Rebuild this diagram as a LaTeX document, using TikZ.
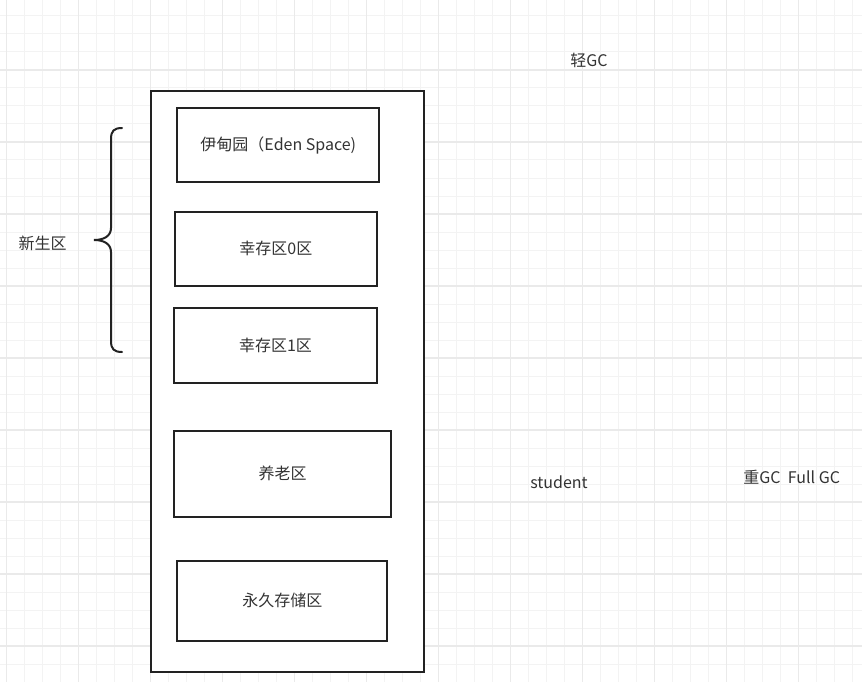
\documentclass[tikz,border=0pt]{standalone}
\usepackage{fontspec}
\setmainfont{Noto Sans CJK SC}
\definecolor{gridminor}{HTML}{F3F3F3}
\definecolor{gridmajor}{HTML}{EAEAEA}
\definecolor{ink}{HTML}{222222}
\definecolor{txt}{HTML}{333333}
\tikzset{
  box/.style={draw=ink, line width=2pt, fill=white, text=txt, inner sep=0pt, outer sep=0pt,
              font=\fontsize{16pt}{19pt}\selectfont},
  lbl/.style={text=txt, inner sep=0pt, font=\fontsize{16pt}{19pt}\selectfont},
}
\begin{document}
\begin{tikzpicture}[x=1pt, y=-1pt]
\useasboundingbox (0,0) rectangle (862,682);
\fill[white] (0,0) rectangle (862,682);
% grid
\foreach \x in {6.3,24.3,...,862} \draw[gridminor, line width=1pt] (\x,0) -- (\x,682);
\foreach \y in {16,34,...,682} \draw[gridminor, line width=1pt] (0,\y) -- (862,\y);
\foreach \x in {6.3,78.3,...,862} \draw[gridmajor, line width=1.3pt] (\x,0) -- (\x,682);
\foreach \y in {-2,70,...,682} \draw[gridmajor, line width=1.3pt] (0,\y) -- (862,\y);
% outer heap
\node[box, minimum width=273.8pt, minimum height=581.6pt] (heap) at (287.4,381.5) {};
% inner regions
\node[box, minimum width=202pt, minimum height=74.6pt] (eden) at (278.3,145) {伊甸园（Eden Space)};
\node[box, minimum width=201.7pt, minimum height=74.3pt] (s0) at (275.85,248.85) {幸存区0区};
\node[box, minimum width=202.4pt, minimum height=75.6pt] (s1) at (275.5,345.5) {幸存区1区};
\node[box, minimum width=217pt, minimum height=86pt] (old) at (282.5,473.7) {养老区};
\node[box, minimum width=210pt, minimum height=80.3pt] (perm) at (282.3,600.85) {永久存储区};
% brace
\draw[ink, line width=2pt, line cap=round]
  (122,128) .. controls (114,128) and (111,131) .. (111,139) -- (111,228)
  .. controls (111,236) and (104,240) .. (94,240)
  .. controls (104,240) and (111,244) .. (111,252) -- (111,341)
  .. controls (111,349) and (114,352) .. (122,352);
% labels
\node[lbl] (young) at (42.5,243) {新生区};
\node[lbl] (minor) at (589,60) {轻GC};
\node[lbl] (student) at (559,482) {student};
\node[lbl] (full) at (791.7,477) {重GC\ \ Full GC};
\end{tikzpicture}
\end{document}
